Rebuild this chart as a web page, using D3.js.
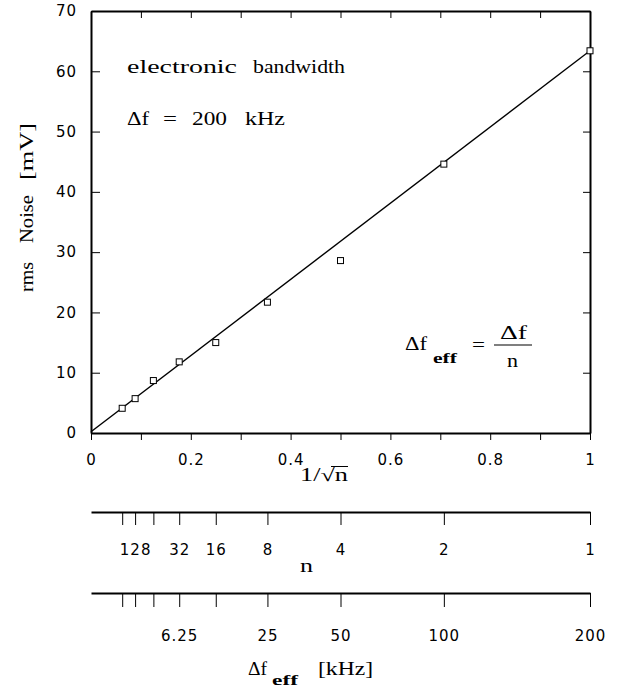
<!DOCTYPE html>
<html>
<head>
<meta charset="utf-8">
<script src="https://cdn.jsdelivr.net/npm/d3@7"></script>
<style>
  body { margin: 0; background: #fff; }
  .axis path, .axis line { stroke: #000; }
  .axis text { font-family: "DejaVu Sans", sans-serif; font-size: 15px; fill: #000; letter-spacing: 1px; }
</style>
</head>
<body>
<div id="chart"></div>
<script>
// data
var nValues = [256, 128, 64, 32, 16, 8, 4, 2, 1];
var noise = [4.1, 5.7, 8.7, 11.8, 15.0, 21.7, 28.6, 44.6, 63.4];
var fitX = [0, 1];
var fitY = [0.2, 63.4];
var yTicks = [0, 10, 20, 30, 40, 50, 60, 70];
var xTicks = [0, 0.1, 0.2, 0.3, 0.4, 0.5, 0.6, 0.7, 0.8, 0.9, 1];
var nLabels = [128, 32, 16, 8, 4, 2, 1];
var fLabels = [6.25, 25, 50, 100, 200];
var bandwidth = 200; // kHz

var svgWidth = 621;
var svgHeight = 687;
var serif = "'Liberation Serif', 'DejaVu Serif', 'Times New Roman', serif";

var svg = d3.select("#chart")
  .append("svg")
  .attr("width", svgWidth)
  .attr("height", svgHeight);

var x = d3.scaleLinear().domain([0, 1]).range([91, 590]);
var y = d3.scaleLinear().domain([0, 70]).range([433, 11]);

// left axis with inward ticks
svg.append("g")
  .attr("class", "axis")
  .attr("transform", "translate(91,0)")
  .call(d3.axisLeft(y).tickValues(yTicks).tickSizeInner(-9).tickSizeOuter(0).tickPadding(14))
  .call(g => g.select(".domain").attr("stroke-width", 2));

// right axis
svg.append("g")
  .attr("class", "axis")
  .attr("transform", "translate(590,0)")
  .call(d3.axisRight(y).tickValues(yTicks).tickSizeInner(-7).tickSizeOuter(0).tickFormat(""))
  .call(g => g.select(".domain").attr("stroke-width", 2));

// top axis
svg.append("g")
  .attr("class", "axis")
  .attr("transform", "translate(0,11)")
  .call(d3.axisTop(x).tickValues(xTicks).tickSizeInner(-7).tickSizeOuter(0).tickFormat(""))
  .call(g => g.select(".domain").attr("stroke-width", 2));

// bottom axis, ticks outward
svg.append("g")
  .attr("class", "axis")
  .attr("transform", "translate(0,433)")
  .call(d3.axisBottom(x).tickValues(xTicks).tickSizeInner(7).tickSizeOuter(0).tickPadding(14)
    .tickFormat(d => (Math.round(d * 10) % 2 === 0) ? d3.format("~g")(d) : ""))
  .call(g => g.select(".domain").attr("stroke-width", 2));

// fit line
svg.append("path")
  .datum(fitX.map((v, i) => [v, fitY[i]]))
  .attr("fill", "none")
  .attr("stroke", "#000")
  .attr("stroke-width", 1.4)
  .attr("d", d3.line().x(d => x(d[0])).y(d => y(d[1])));

// points
svg.selectAll("rect.pt")
  .data(nValues)
  .enter()
  .append("rect")
  .attr("class", "pt")
  .attr("x", (d, i) => x(1 / Math.sqrt(d)) - 3)
  .attr("y", (d, i) => y(noise[i]) - 3)
  .attr("width", 6)
  .attr("height", 6)
  .attr("fill", "#fff")
  .attr("stroke", "#000")
  .attr("stroke-width", 1);

// n axis
var nPos = nValues.map(n => 1 / Math.sqrt(n));
svg.append("g")
  .attr("class", "axis")
  .attr("transform", "translate(0,512)")
  .call(d3.axisBottom(x).tickValues(nPos).tickSizeInner(13).tickSizeOuter(0).tickPadding(19)
    .tickFormat(d => {
      var n = Math.round(1 / (d * d));
      return nLabels.indexOf(n) >= 0 ? n : "";
    }))
  .call(g => g.select(".domain").attr("stroke-width", 2));

// effective bandwidth axis
svg.append("g")
  .attr("class", "axis")
  .attr("transform", "translate(0,593)")
  .call(d3.axisBottom(x).tickValues(nPos).tickSizeInner(14).tickSizeOuter(0).tickPadding(23)
    .tickFormat(d => {
      var f = bandwidth * d * d;
      var hit = fLabels.find(v => Math.abs(v - f) < 0.01);
      return hit !== undefined ? hit : "";
    }))
  .call(g => g.select(".domain").attr("stroke-width", 2));

// texts, each word placed where it sits in the original (glyphs stretched to the wide original face)
function txt(str, px, py, size, len, parent) {
  var t = (parent || svg).append("text")
    .attr("font-family", serif)
    .attr("fill", "#000")
    .attr("x", px)
    .attr("y", py)
    .attr("font-size", size)
    .text(str);
  if (len) t.attr("textLength", len).attr("lengthAdjust", "spacingAndGlyphs");
  return t;
}

txt("electronic", 127, 73, 18, 110);
txt("bandwidth", 253, 73, 18, 92);
txt("\u0394f", 127, 125, 18, 22);
txt("=", 163, 125, 18, 14);
txt("200", 192, 125, 18, 35);
txt("kHz", 245, 125, 18, 40);

// y title, rotated
var yt = svg.append("g").attr("transform", "translate(33,0) rotate(-90)");
txt("rms", -292, 0, 18, 30, yt);
txt("Noise", -243, 0, 18, 48, yt);
txt("[mV]", -180, 0, 18, 57, yt);

// x title 1/sqrt(n)
txt("1/\u221An", 300, 481, 18, 48);
svg.append("line")
  .attr("x1", 331).attr("x2", 348)
  .attr("y1", 466.5).attr("y2", 466.5)
  .attr("stroke", "#000").attr("stroke-width", 1);

// formula
txt("\u0394f", 405, 350, 18, 22);
txt("eff", 433, 363, 15, 24).attr("font-weight", "bold");
txt("=", 472, 351, 18, 13);
svg.append("line")
  .attr("x1", 494).attr("x2", 532)
  .attr("y1", 345).attr("y2", 345)
  .attr("stroke", "#000").attr("stroke-width", 1.2);
txt("\u0394f", 500, 339, 18, 27);
txt("n", 507, 367, 18, 11);

// bottom titles
txt("n", 300, 572, 18, 13);
txt("\u0394f", 248, 675, 18, 19);
txt("eff", 272, 685, 15, 26).attr("font-weight", "bold");
txt("[kHz]", 318, 675, 18, 55);
</script>
</body>
</html>
